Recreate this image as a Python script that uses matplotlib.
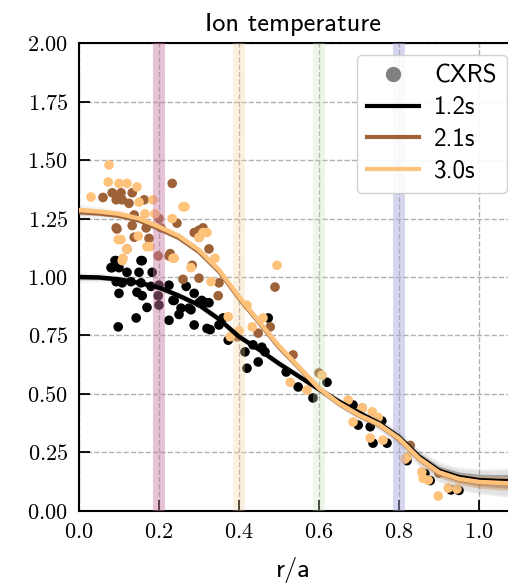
import numpy as np
import matplotlib
matplotlib.use('Agg')
import matplotlib.pyplot as plt
from matplotlib.lines import Line2D

plt.rcParams['mathtext.fontset'] = 'cm'
plt.rcParams['axes.unicode_minus'] = False

# CXRS measurements, one set per time slice
r_12 = [0.093, 0.158, 0.083, 0.10, 0.12, 0.15, 0.183, 0.093, 0.108, 0.13, 0.155, 0.18,
        0.20, 0.225, 0.10, 0.145, 0.158, 0.198, 0.20, 0.17, 0.238, 0.268, 0.255, 0.275,
        0.25, 0.288, 0.318, 0.32, 0.288, 0.225, 0.143, 0.098, 0.235, 0.28, 0.30, 0.325,
        0.328, 0.35, 0.36, 0.373, 0.415, 0.42, 0.435, 0.457, 0.465, 0.448, 0.473, 0.518,
        0.548, 0.585, 0.62, 0.685, 0.698, 0.757, 0.735, 0.77, 0.728, 0.82, 0.865, 0.878,
        0.93, 0.95, 0.08, 0.09, 0.155, 0.307]
te_12 = [1.07, 1.07, 1.04, 1.04, 1.02, 1.02, 1.02, 0.98, 0.975, 0.98, 0.975, 0.96,
         0.965, 0.965, 0.93, 0.935, 0.92, 0.92, 0.88, 0.87, 0.90, 0.96, 0.867, 0.867,
         0.84, 0.93, 0.89, 0.78, 0.795, 0.815, 0.825, 0.787, 0.90, 0.86, 0.89, 0.89,
         0.775, 0.795, 0.825, 0.73, 0.68, 0.61, 0.71, 0.70, 0.68, 0.637, 0.825, 0.594,
         0.53, 0.483, 0.55, 0.453, 0.367, 0.385, 0.29, 0.29, 0.36, 0.215, 0.16, 0.13,
         0.09, 0.088, 1.04, 1.07, 1.07, 0.90]

r_21 = [0.233, 0.06, 0.083, 0.105, 0.133, 0.093, 0.108, 0.125, 0.163, 0.138, 0.133,
        0.093, 0.168, 0.205, 0.138, 0.12, 0.175, 0.288, 0.30, 0.198, 0.225, 0.283, 0.30,
        0.325, 0.35, 0.30, 0.26, 0.245, 0.228, 0.49, 0.348, 0.395, 0.448, 0.478, 0.535,
        0.60, 0.708, 0.828, 0.90, 0.095, 0.31, 0.20]
te_21 = [1.40, 1.34, 1.36, 1.36, 1.36, 1.33, 1.33, 1.315, 1.33, 1.265, 1.22, 1.21,
         1.21, 1.21, 1.17, 1.12, 1.165, 1.19, 1.17, 1.09, 1.09, 1.05, 1.20, 1.12,
         0.975, 0.995, 0.99, 1.23, 1.10, 0.957, 0.92, 0.745, 0.76, 0.787, 0.667,
         0.59, 0.44, 0.28, 0.162, 1.205, 1.21, 1.25]

r_30 = [0.075, 0.03, 0.073, 0.10, 0.12, 0.145, 0.15, 0.165, 0.185, 0.19, 0.265, 0.105,
        0.148, 0.178, 0.108, 0.238, 0.31, 0.233, 0.34, 0.30, 0.32, 0.26, 0.28, 0.33,
        0.235, 0.17, 0.11, 0.12, 0.098, 0.495, 0.373, 0.378, 0.433, 0.46, 0.42, 0.40,
        0.528, 0.57, 0.6075, 0.673, 0.733, 0.748, 0.685, 0.728, 0.76, 0.82, 0.815,
        0.857, 0.86, 0.873, 0.898, 0.923, 0.945, 0.708]
te_30 = [1.479, 1.342, 1.406, 1.40, 1.40, 1.385, 1.32, 1.27, 1.33, 1.27, 1.30, 1.16,
         1.175, 1.13, 1.07, 1.08, 1.19, 1.25, 1.08, 1.17, 1.19, 1.30, 1.04, 0.98,
         1.08, 1.13, 1.08, 1.12, 1.16, 1.05, 0.83, 0.745, 0.787, 0.825, 0.88, 0.77,
         0.55, 0.517, 0.58, 0.474, 0.424, 0.40, 0.38, 0.312, 0.303, 0.23, 0.222,
         0.167, 0.14, 0.132, 0.064, 0.098, 0.094, 0.44]

# fitted profiles and their spread
r_fit = [0.0, 0.05, 0.1, 0.15, 0.2, 0.25, 0.3, 0.35, 0.4, 0.45, 0.5, 0.55, 0.6,
         0.65, 0.7, 0.75, 0.8, 0.85, 0.9, 0.95, 1.0, 1.05, 1.08]
fit_12 = [1.00, 0.998, 0.99, 0.975, 0.955, 0.92, 0.88, 0.82, 0.745, 0.69, 0.63, 0.575,
          0.52, 0.468, 0.42, 0.375, 0.315, 0.232, 0.172, 0.145, 0.132, 0.128, 0.127]
fit_21 = [1.278, 1.272, 1.262, 1.242, 1.207, 1.167, 1.108, 1.024, 0.91, 0.806, 0.70,
          0.612, 0.523, 0.458, 0.408, 0.368, 0.308, 0.224, 0.164, 0.136, 0.123, 0.119, 0.117]
fit_30 = [1.286, 1.28, 1.27, 1.25, 1.215, 1.175, 1.115, 1.03, 0.915, 0.81, 0.705, 0.615,
          0.525, 0.46, 0.41, 0.37, 0.31, 0.225, 0.165, 0.137, 0.124, 0.12, 0.118]
spread = [0.012, 0.01, 0.008, 0.008, 0.008, 0.008, 0.008, 0.008, 0.008, 0.008, 0.008,
          0.008, 0.008, 0.008, 0.01, 0.012, 0.014, 0.017, 0.02, 0.022, 0.025, 0.028, 0.03]

times = ['1.2s', '2.1s', '3.0s']
colors = ['black', '#9e6238', '#ffc27a']
bands = [0.2, 0.4, 0.6, 0.8]
band_colors = ['#c97aa2', '#f7cf9c', '#c6e2b0', '#a6a6da']
band_alpha = [0.45, 0.3, 0.3, 0.45]

fig = plt.figure(figsize=(5.08, 5.87), dpi=100)
ax = fig.add_axes([0.1555, 0.1295, 0.8445, 0.7972])

for rr, tt, c in zip([r_12, r_21, r_30], [te_12, te_21, te_30], colors):
    ax.scatter(rr, tt, s=48, color=c, edgecolors='none', zorder=2)

for b, bc, ba in zip(bands, band_colors, band_alpha):
    ax.axvspan(b - 0.015, b + 0.015, color=bc, alpha=ba, lw=0, zorder=3)

sp = np.array(spread)
for f, c in zip([fit_12, fit_21, fit_30], colors):
    f = np.array(f)
    ax.fill_between(r_fit, f - 2 * sp, f + 2 * sp, color='gray', alpha=0.08, lw=0, zorder=4)
    ax.fill_between(r_fit, f - sp, f + sp, color=c, alpha=0.3, lw=0, zorder=4)
    ax.plot(r_fit, f, color=c, lw=3.2, zorder=5)

ax.set_xlim(0, 1.0725)
ax.set_ylim(0, 2.0)
ax.set_xticks([0.0, 0.2, 0.4, 0.6, 0.8, 1.0])
ax.set_xticklabels(['$%.1f$' % v for v in [0.0, 0.2, 0.4, 0.6, 0.8, 1.0]])
yt = [0.0, 0.25, 0.5, 0.75, 1.0, 1.25, 1.5, 1.75, 2.0]
ax.set_yticks(yt)
ax.set_yticklabels(['$%.2f$' % v for v in yt])
ax.tick_params(direction='in', length=8, width=1.3, labelsize=16, pad=8)
ax.grid(True, ls='--', color='#b0b0b0', lw=1.0, zorder=0)
ax.set_axisbelow(True)
for s in ['left', 'bottom', 'top']:
    ax.spines[s].set_linewidth(1.5)
ax.spines['right'].set_visible(False)

ax.set_title('Ion temperature', fontsize=19, family='cmss10', pad=9)
ax.set_xlabel('r/a', fontsize=19, family='cmss10', labelpad=11)

handles = [Line2D([], [], marker='o', ls='none', color='gray', markersize=10)]
handles += [Line2D([], [], color=c, lw=3) for c in colors]
labels = ['CXRS'] + times
ax.legend(handles, labels, loc='upper right', bbox_to_anchor=(0.997, 0.975),
          borderaxespad=0, prop={'family': 'cmss10', 'size': 18}, framealpha=0.9,
          handlelength=2.1, handletextpad=0.6, labelspacing=0.35, borderpad=0.4)

plt.savefig('out.png', dpi=100)
